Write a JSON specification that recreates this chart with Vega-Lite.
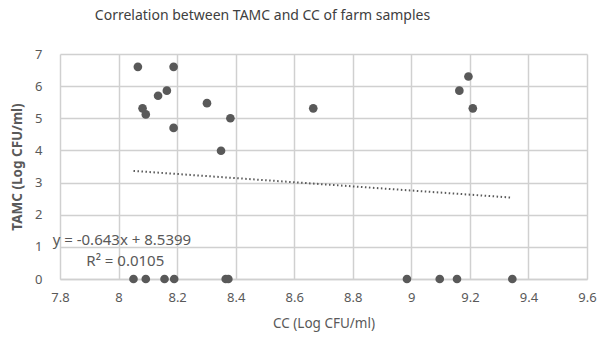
{
  "$schema": "https://vega.github.io/schema/vega-lite/v6.json",
  "width": 527,
  "height": 225,
  "autosize": "none",
  "padding": {"left": 60, "top": 54, "right": 13, "bottom": 61},
  "background": "white",
  "title": {"text": "Correlation between TAMC and CC of farm samples", "font": "Noto Sans", "fontSize": 14, "fontWeight": "normal", "color": "#404040", "anchor": "middle", "offset": 25, "frame": "group", "dx": -61},
  "config": {"font": "Noto Sans", "view": {"stroke": null}},
  "datasets": {
    "pts": [
      {"CC": 8.066, "TAMC": 6.6},
      {"CC": 8.188, "TAMC": 6.6},
      {"CC": 8.135, "TAMC": 5.70},
      {"CC": 8.165, "TAMC": 5.86},
      {"CC": 8.082, "TAMC": 5.31},
      {"CC": 8.093, "TAMC": 5.12},
      {"CC": 8.188, "TAMC": 4.70},
      {"CC": 8.302, "TAMC": 5.47},
      {"CC": 8.382, "TAMC": 5.00},
      {"CC": 8.350, "TAMC": 3.99},
      {"CC": 8.665, "TAMC": 5.31},
      {"CC": 9.195, "TAMC": 6.30},
      {"CC": 9.164, "TAMC": 5.86},
      {"CC": 9.210, "TAMC": 5.31},
      {"CC": 8.051, "TAMC": 0},
      {"CC": 8.093, "TAMC": 0},
      {"CC": 8.157, "TAMC": 0},
      {"CC": 8.190, "TAMC": 0},
      {"CC": 8.366, "TAMC": 0},
      {"CC": 8.375, "TAMC": 0},
      {"CC": 8.985, "TAMC": 0},
      {"CC": 9.097, "TAMC": 0},
      {"CC": 9.156, "TAMC": 0},
      {"CC": 9.345, "TAMC": 0}
    ],
    "trend": [
      {"CC": 8.051, "TAMC": 3.363},
      {"CC": 9.345, "TAMC": 2.531}
    ],
    "labels": [
      {"CC": 7.775, "TAMC": 1.22, "label": "y = -0.643x + 8.5399"},
      {"CC": 7.89, "TAMC": 0.57, "label": "R² = 0.0105"}
    ]
  },
  "encoding": {
    "x": {"field": "CC", "type": "quantitative", "scale": {"domain": [7.8, 9.6], "nice": false, "zero": false},
      "axis": {"title": "CC (Log CFU/ml)", "values": [7.8, 8, 8.2, 8.4, 8.6, 8.8, 9, 9.2, 9.4, 9.6], "format": "~g", "labelOverlap": false, "grid": true, "gridColor": "#d0d0d0", "gridOpacity": 1, "gridWidth": 1.5, "domain": true, "domainColor": "#d0d0d0", "domainWidth": 1.5, "ticks": false, "labelPadding": 12, "labelFontSize": 13, "labelColor": "#595959", "titleFontSize": 13.5, "titleFontWeight": "normal", "titleColor": "#595959", "titlePadding": 12, "labelFlush": false}},
    "y": {"field": "TAMC", "type": "quantitative", "scale": {"domain": [0, 7], "nice": false, "zero": true},
      "axis": {"title": "TAMC (Log CFU/ml)", "values": [0, 1, 2, 3, 4, 5, 6, 7], "labelOverlap": false, "grid": true, "gridColor": "#d0d0d0", "gridOpacity": 1, "gridWidth": 1.5, "domain": false, "ticks": false, "labelPadding": 18, "labelFontSize": 13, "labelColor": "#595959", "titleFontSize": 13.5, "titleFontWeight": "bold", "titleColor": "#595959", "titlePadding": 10}}
  },
  "layer": [
    {
      "data": {"name": "trend"},
      "mark": {"type": "line", "color": "#595959", "strokeDash": [1.5, 2.5], "strokeWidth": 2}
    },
    {
      "data": {"name": "pts"},
      "mark": {"type": "point", "filled": true, "opacity": 1, "color": "#595959", "size": 75}
    },
    {
      "data": {"name": "labels"},
      "mark": {"type": "text", "align": "left", "baseline": "middle", "fontSize": 15, "color": "#595959"},
      "encoding": {
        "text": {"field": "label"}
      }
    }
  ]
}
